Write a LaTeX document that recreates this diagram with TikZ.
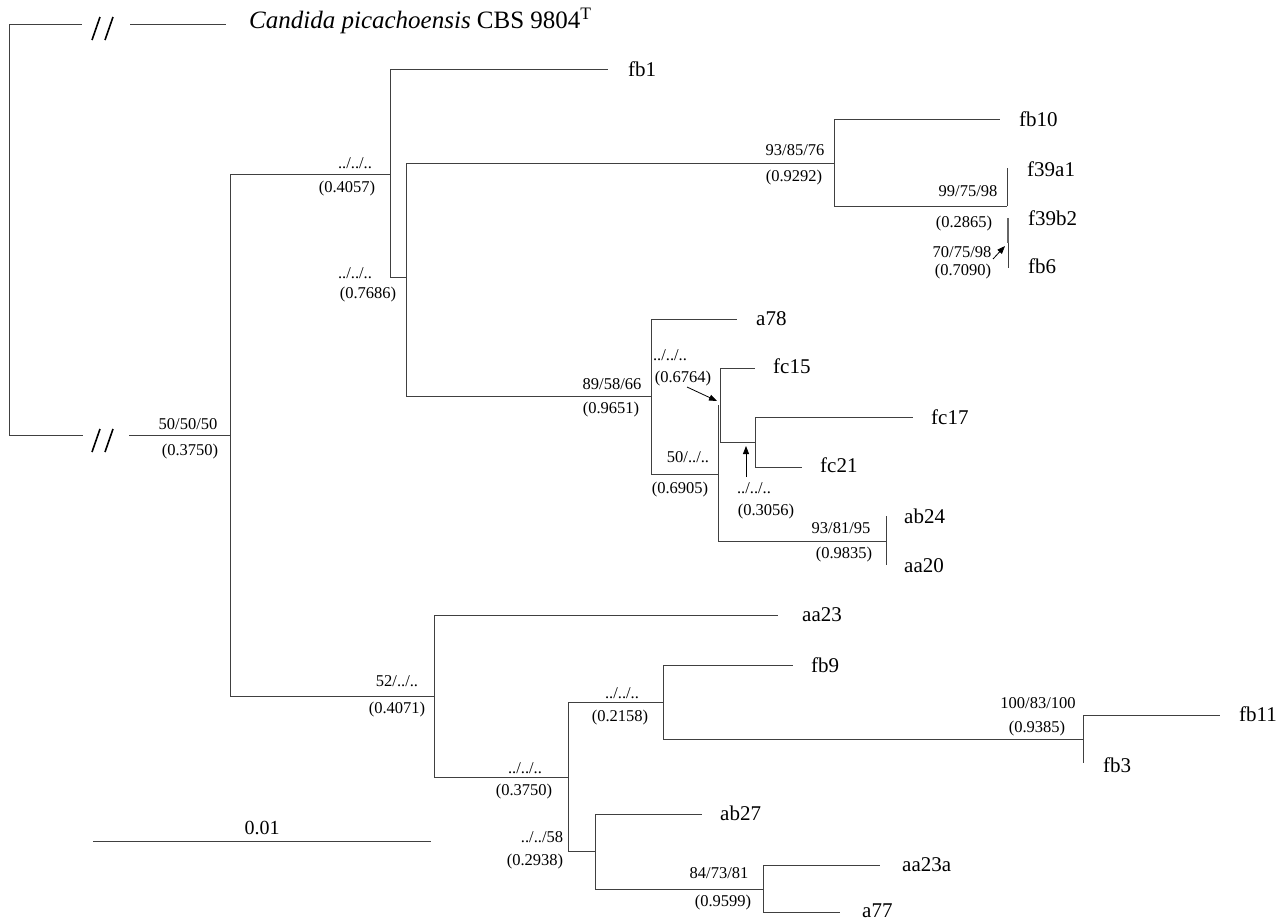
\documentclass[tikz,border=0pt]{standalone}
\usepackage{fontspec}
\setmainfont{Liberation Serif}
\usetikzlibrary{arrows.meta,calc}
\begin{document}
\begin{tikzpicture}[x=1pt,y=-1pt,
  br/.style={line width=0.9pt, draw=black!75},
  leaf/.style={anchor=west, inner sep=0pt, text height=0.68em, text depth=0pt, yshift=-2.5pt, font=\fontsize{21}{21}\selectfont},
  sup/.style={anchor=center, inner sep=0pt, text height=0.68em, text depth=0pt, yshift=-2.5pt, font=\fontsize{16.5}{16.5}\selectfont},
  brk/.style={line width=1.6pt, draw=black},
  pointer/.style={line width=0.8pt, draw=black, -{Triangle[length=8pt,width=6pt]}}]
\useasboundingbox (0,0) rectangle (1282,921);
% ---- internal nodes (x of node, y of incoming branch) ----
\coordinate (R) at (9,24);
\coordinate (A) at (230,435);
\coordinate (B) at (390,174);
\coordinate (C) at (406,277);
\coordinate (D) at (834,163);
\coordinate (F) at (1007,206);
\coordinate (G) at (1008,243);
\coordinate (E) at (651,396);
\coordinate (H) at (718,474);
\coordinate (I) at (720,405);
\coordinate (K) at (755,442);
\coordinate (J) at (886,541);
\coordinate (L) at (434,696);
\coordinate (M) at (568,777);
\coordinate (N) at (663,702);
\coordinate (P) at (1083,739);
\coordinate (O) at (595,851);
\coordinate (Q) at (763,889);
% ---- tips ----
\coordinate (tcand) at (226,24);
\coordinate (tfb1) at (608,69);
\coordinate (tfb10) at (1000,119);
\coordinate (tf39a1) at (1007,168);
\coordinate (tf39b2) at (1008,218);
\coordinate (tfb6) at (1008,268);
\coordinate (ta78) at (737,319);
\coordinate (tfc15) at (755,368);
\coordinate (tfc17) at (913,417);
\coordinate (tfc21) at (802,467);
\coordinate (tab24) at (886,516);
\coordinate (taa20) at (886,565);
\coordinate (taa23) at (778,615);
\coordinate (tfb9) at (793,665);
\coordinate (tfb11) at (1220,715);
\coordinate (tfb3) at (1083,763);
\coordinate (tab27) at (702,814);
\coordinate (taa23a) at (880,865);
\coordinate (ta77) at (840,912);
% ---- root with breaks ----
\coordinate (rb1) at (82,24);
\coordinate (rb2) at (130,24);
\coordinate (rb3) at (83,435);
\coordinate (rb4) at (129,435);
\draw[br] (R) -- (R |- A);
\draw[br] (R) -- (rb1);
\draw[br] (rb2) -- (tcand);
\draw[br] (R |- A) -- (rb3);
\draw[br] (rb4) -- (A);
\draw[brk] (92,40) -- (100,17);
\draw[brk] (105,40) -- (113,17);
\draw[brk] (92,452) -- (100,429);
\draw[brk] (105,452) -- (113,429);
% ---- A ----
\draw[br] (A |- B) -- (A |- L);
\draw[br] (A |- B) -- (B);
\draw[br] (A |- L) -- (L);
% ---- B ----
\draw[br] (B |- tfb1) -- (B |- C);
\draw[br] (B |- tfb1) -- (tfb1);
\draw[br] (B |- C) -- (C);
% ---- C ----
\draw[br] (C |- D) -- (C |- E);
\draw[br] (C |- D) -- (D);
\draw[br] (C |- E) -- (E);
% ---- D ----
\draw[br] (D |- tfb10) -- (D |- F);
\draw[br] (D |- tfb10) -- (tfb10);
\draw[br] (D |- F) -- (F);
% ---- F, G ----
\draw[br] (tf39a1) -- (F);
\draw[br] (tf39b2) -- (tfb6);
\draw[line width=1.6pt, draw=black!60] (tf39b2) -- ($(tf39b2)!0.5!(tfb6)$);
% ---- E ----
\draw[br] (E |- ta78) -- (E |- H);
\draw[br] (E |- ta78) -- (ta78);
\draw[br] (E |- H) -- (H);
% ---- H ----
\draw[br] (H |- I) -- (H |- J);
\draw[br] (H |- J) -- (J);
% ---- I ----
\draw[br] (I |- tfc15) -- (I |- K);
\draw[br] (I |- tfc15) -- (tfc15);
\draw[br] (I |- K) -- (K);
% ---- K ----
\draw[br] (K |- tfc17) -- (K |- tfc21);
\draw[br] (K |- tfc17) -- (tfc17);
\draw[br] (K |- tfc21) -- (tfc21);
% ---- J ----
\draw[br] (tab24) -- (taa20);
% ---- L ----
\draw[br] (L |- taa23) -- (L |- M);
\draw[br] (L |- taa23) -- (taa23);
\draw[br] (L |- M) -- (M);
% ---- M ----
\draw[br] (M |- N) -- (M |- O);
\draw[br] (M |- N) -- (N);
\draw[br] (M |- O) -- (O);
% ---- N ----
\draw[br] (N |- tfb9) -- (N |- P);
\draw[br] (N |- tfb9) -- (tfb9);
\draw[br] (N |- P) -- (P);
% ---- P ----
\draw[br] (P |- tfb11) -- (tfb3);
\draw[br] (P |- tfb11) -- (tfb11);
% ---- O ----
\draw[br] (O |- tab27) -- (O |- Q);
\draw[br] (O |- tab27) -- (tab27);
\draw[br] (O |- Q) -- (Q);
% ---- Q ----
\draw[br] (Q |- taa23a) -- (Q |- ta77);
\draw[br] (Q |- taa23a) -- (taa23a);
\draw[br] (Q |- ta77) -- (ta77);
% ---- leaf labels ----
\node[leaf, font=\fontsize{25}{25}\selectfont] (lcand) at (249,23) {\textit{Candida picachoensis} CBS 9804\textsuperscript{T}};
\node[leaf] (lfb1) at (628,71) {fb1};
\node[leaf] (lfb10) at (1019,121) {fb10};
\node[leaf] (lf39a1) at (1027,171) {f39a1};
\node[leaf] (lf39b2) at (1028,220) {f39b2};
\node[leaf] (lfb6) at (1028,268) {fb6};
\node[leaf] (la78) at (756,320) {a78};
\node[leaf] (lfc15) at (773,368) {fc15};
\node[leaf] (lfc17) at (931,419) {fc17};
\node[leaf] (lfc21) at (820,467) {fc21};
\node[leaf] (lab24) at (904,518) {ab24};
\node[leaf] (laa20) at (904,567) {aa20};
\node[leaf] (laa23) at (802,616) {aa23};
\node[leaf] (lfb9) at (811,667) {fb9};
\node[leaf] (lfb11) at (1239,716) {fb11};
\node[leaf] (lfb3) at (1103,767) {fb3};
\node[leaf] (lab27) at (720,815) {ab27};
\node[leaf] (laa23a) at (902,866) {aa23a};
\node[leaf] (la77) at (862,912) {a77};
% ---- support labels ----
\node[sup] (sA1) at (188,424) {50/50/50};
\node[sup] (sA2) at (190,450) {(0.3750)};
\node[sup] (sB1) at (355,163) {../../..};
\node[sup] (sB2) at (347,187) {(0.4057)};
\node[sup] (sC1) at (355,273) {../../..};
\node[sup] (sC2) at (368,293) {(0.7686)};
\node[sup] (sD1) at (795,150) {93/85/76};
\node[sup] (sD2) at (794,176) {(0.9292)};
\node[sup] (sF1) at (968,191) {99/75/98};
\node[sup] (sF2) at (964,222) {(0.2865)};
\node[sup] (sG1) at (962,252) {70/75/98};
\node[sup] (sG2) at (963,270) {(0.7090)};
\node[sup] (sE1) at (612,384) {89/58/66};
\node[sup] (sE2) at (611,408) {(0.9651)};
\node[sup] (sI1) at (670,355) {../../..};
\node[sup] (sI2) at (683,377) {(0.6764)};
\node[sup] (sH1) at (688,457) {50/../..};
\node[sup] (sH2) at (680,488) {(0.6905)};
\node[sup] (sK1) at (754,488) {../../..};
\node[sup] (sK2) at (766,510) {(0.3056)};
\node[sup] (sJ1) at (841,528) {93/81/95};
\node[sup] (sJ2) at (844,553) {(0.9835)};
\node[sup] (sL1) at (397,681) {52/../..};
\node[sup] (sL2) at (397,708) {(0.4071)};
\node[sup] (sM1) at (525,768) {../../..};
\node[sup] (sM2) at (524,790) {(0.3750)};
\node[sup] (sN1) at (622,693) {../../..};
\node[sup] (sN2) at (620,716) {(0.2158)};
\node[sup] (sP1) at (1038,703) {100/83/100};
\node[sup] (sP2) at (1037,727) {(0.9385)};
\node[sup] (sO1) at (542,837) {../../58};
\node[sup] (sO2) at (535,860) {(0.2938)};
\node[sup] (sQ1) at (719,873) {84/73/81};
\node[sup] (sQ2) at (723,901) {(0.9599)};
% ---- pointer arrows ----
\coordinate (aG0) at (993,259);
\coordinate (aG1) at (1005,246);
\coordinate (aI0) at (687,387);
\coordinate (aI1) at (717,401);
\coordinate (aK0) at (746,477);
\coordinate (aK1) at (746,446);
\draw[pointer] (aG0) -- (aG1);
\draw[pointer] (aI0) -- (aI1);
\draw[pointer] (aK0) -- (aK1);
% ---- scale bar ----
\coordinate (sb0) at (93,841);
\coordinate (sb1) at (431,841);
\draw[br] (sb0) -- (sb1);
\node[leaf, anchor=center, font=\fontsize{20}{20}\selectfont] (sbl) at (262,829) {0.01};
\end{tikzpicture}
\end{document}
